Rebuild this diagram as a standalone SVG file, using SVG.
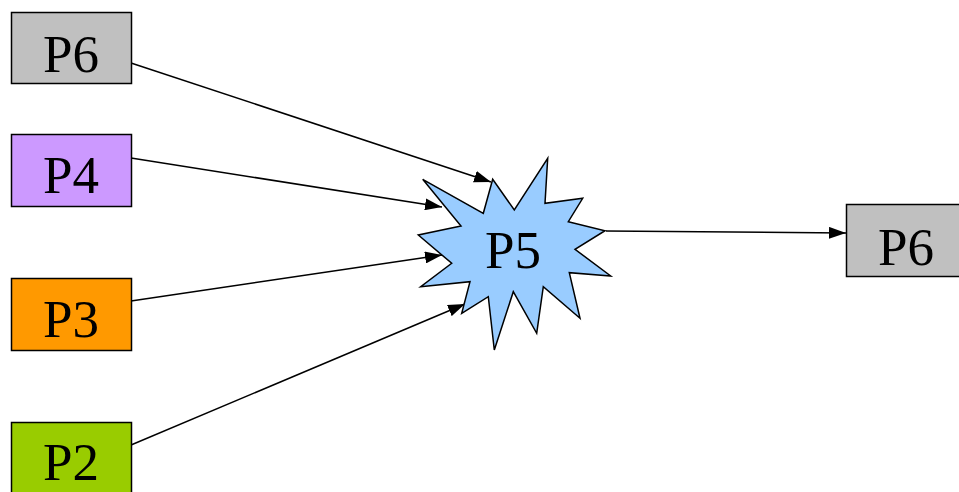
<svg xmlns="http://www.w3.org/2000/svg" width="959" height="492" viewBox="0 0 959 492">
<defs>
<style>
.box{stroke:#000;stroke-width:1.5}
.lbl{font-family:"Liberation Serif","Times New Roman",serif;font-size:53px;fill:#000;text-anchor:middle}
.conn{stroke:#000;stroke-width:1.5;fill:none}
</style>
<marker id="ah" viewBox="0 0 17 12" refX="17" refY="6" markerWidth="17" markerHeight="12" markerUnits="userSpaceOnUse" orient="auto">
<path d="M0,0 L17,6 L0,12 Z" fill="#000"/>
</marker>
</defs>
<rect width="959" height="492" fill="#fff"/>
<g id="connectors">
<line class="conn" x1="131" y1="63" x2="491" y2="182" marker-end="url(#ah)"/>
<line class="conn" x1="131" y1="158" x2="442" y2="207" marker-end="url(#ah)"/>
<line class="conn" x1="131" y1="301" x2="442" y2="255" marker-end="url(#ah)"/>
<line class="conn" x1="131" y1="445" x2="465" y2="304" marker-end="url(#ah)"/>
<line class="conn" x1="606" y1="231" x2="846" y2="233" marker-end="url(#ah)"/>
</g>
<g id="p6-left">
<rect class="box" x="11.5" y="12.5" width="120" height="71" fill="#C0C0C0"/>
<text class="lbl" x="71" y="72">P6</text>
</g>
<g id="p4">
<rect class="box" x="11.5" y="134.5" width="120" height="72" fill="#CC99FF"/>
<text class="lbl" x="71" y="193">P4</text>
</g>
<g id="p3">
<rect class="box" x="11.5" y="278.5" width="120" height="72" fill="#FF9900"/>
<text class="lbl" x="71" y="337">P3</text>
</g>
<g id="p2">
<rect class="box" x="11.5" y="422.5" width="120" height="80" fill="#99CC00"/>
<text class="lbl" x="71" y="480">P2</text>
</g>
<g id="p5">
<polygon class="box" fill="#99CCFF" points="547.7,158.3 545,203.3 582.7,198.3 568.3,221.7 605,230.7 575,249.3 610.7,276 569.3,272.7 580,318.3 543.3,286.7 536.7,333.3 513.3,291.7 494.3,350 488.3,296.7 461.7,313.3 470,281.7 420.7,286.7 451.7,263.3 418.3,235 461,226 422.7,179.3 483.3,213.3 492.7,179.3 514.3,210"/>
<text class="lbl" x="513" y="268">P5</text>
</g>
<g id="p6-right">
<rect class="box" x="846.5" y="204.5" width="120" height="72" fill="#C0C0C0"/>
<text class="lbl" x="906" y="265">P6</text>
</g>
</svg>
